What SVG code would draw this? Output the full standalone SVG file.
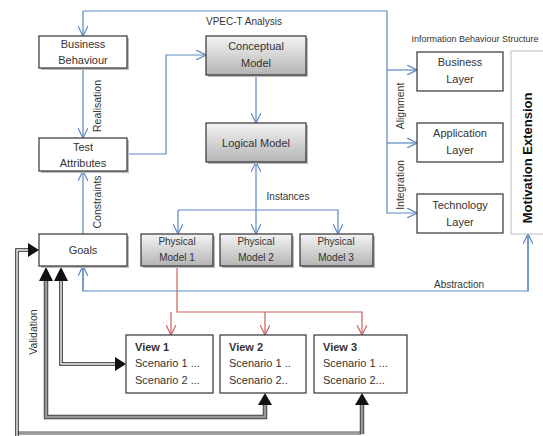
<svg xmlns="http://www.w3.org/2000/svg" width="543" height="436" viewBox="0 0 543 436">
<defs>
<linearGradient id="g" x1="0" y1="0" x2="0" y2="1">
<stop offset="0" stop-color="#f4f4f4"/>
<stop offset="1" stop-color="#b4b4b4"/>
</linearGradient>
<marker id="ab" viewBox="0 0 10 10" refX="10" refY="5" markerWidth="10" markerHeight="10" markerUnits="userSpaceOnUse" orient="auto">
<path d="M0,0 L10,5 L0,10" fill="none" stroke="#5b87c5" stroke-width="1.2"/>
</marker>
<marker id="ar" viewBox="0 0 10 10" refX="10" refY="5" markerWidth="10" markerHeight="10" markerUnits="userSpaceOnUse" orient="auto">
<path d="M0,0 L10,5 L0,10" fill="none" stroke="#c9605d" stroke-width="1.2"/>
</marker>
</defs>
<style>
text{font-family:"Liberation Sans",Arial,sans-serif;fill:#333;}
.b{fill:#fff;stroke:#333;stroke-width:1.2;}
.gb{fill:url(#g);stroke:#333;stroke-width:1.2;}
.sh{fill:#bbb;}
.t{font-size:11px;text-anchor:middle;}
.s{font-size:10px;text-anchor:middle;}
.l{font-size:10px;}
.r{font-size:10.5px;}
.blue{fill:none;stroke:#5b87c5;stroke-width:1.2;}
.red{fill:none;stroke:#c9605d;stroke-width:1.2;}
.dk{fill:none;stroke:#222;stroke-width:3.5;}
.dw{fill:none;stroke:#fff;stroke-width:1.4;}
.gk{fill:none;stroke:#444;stroke-width:4.5;}
.gw{fill:none;stroke:#999;stroke-width:2.5;}
.tk{fill:none;stroke:#555;stroke-width:3;}
.tw{fill:none;stroke:#ddd;stroke-width:1.2;}
.ah{fill:#111;}
</style>
<rect width="543" height="436" fill="#fff"/>
<g id="connectors">
<path class="blue" d="M83,11 H387 V213 H417" marker-end="url(#ab)"/>
<path class="blue" d="M83,11 V36" marker-end="url(#ab)"/>
<path class="blue" d="M387,70 H417" marker-end="url(#ab)"/>
<path class="blue" d="M387,143 H417" marker-end="url(#ab)"/>
<path class="blue" d="M83,68 V138" marker-end="url(#ab)"/>
<path class="blue" d="M127,154 H166 V55 H206" marker-end="url(#ab)"/>
<path class="blue" d="M256,75 V123" marker-end="url(#ab)"/>
<path class="blue" d="M83,234 V171" marker-end="url(#ab)"/>
<path class="blue" d="M256,210 V162" marker-end="url(#ab)"/>
<path class="blue" d="M178,210 H338 V234" marker-end="url(#ab)"/>
<path class="blue" d="M178,210 V234" marker-end="url(#ab)"/>
<path class="blue" d="M256,210 V234" marker-end="url(#ab)"/>
<path class="blue" d="M83,266 V291 H528 V234"/>
<path class="blue" d="M83,291 V266" marker-end="url(#ab)"/>
<path class="blue" d="M528,291 V234" marker-end="url(#ab)"/>
<path class="red" d="M177,266 V312 H362 V335" marker-end="url(#ar)"/>
<path class="red" d="M171,312 V335" marker-end="url(#ar)"/>
<path class="red" d="M265,312 V335" marker-end="url(#ar)"/>
<path class="tk" d="M17,433 H362"/>
<path class="tw" d="M17,433 H362"/>
<path class="gk" d="M362,434 V404"/>
<path class="gw" d="M362,434 V404"/>
<path class="dk" d="M17,436 V250 H28"/>
<path class="dw" d="M17,436 V250 H28"/>
<polygon class="ah" points="28,243 39,250 28,257"/>
<path class="dk" d="M61,281 V364 H115"/>
<path class="dw" d="M61,281 V364 H115"/>
<polygon class="ah" points="115,357 126,364 115,371"/>
<polygon class="ah" points="54,281 61,267 68,281"/>
<path class="gk" d="M46,281 V417 H265 V404"/>
<path class="gw" d="M46,281 V417 H265 V404"/>
<polygon class="ah" points="39,281 46,267 53,281"/>
<polygon class="ah" points="258,405 265,393 272,405"/>
<polygon class="ah" points="355,405 362,393 369,405"/>
<text class="l" x="244" y="25" text-anchor="middle">VPEC-T Analysis</text>
<text x="475" y="42" text-anchor="middle" font-size="9">Information Behaviour Structure</text>
<text class="r" transform="translate(101,106) rotate(-90)" text-anchor="middle">Realisation</text>
<text class="r" transform="translate(101,202) rotate(-90)" text-anchor="middle">Constraints</text>
<text class="r" transform="translate(404,106) rotate(-90)" text-anchor="middle">Alignment</text>
<text class="r" transform="translate(404,185) rotate(-90)" text-anchor="middle">Integration</text>
<text class="r" transform="translate(37,332) rotate(-90)" text-anchor="middle">Validation</text>
<text class="l" x="288" y="200" text-anchor="middle">Instances</text>
<text class="l" x="459" y="288" text-anchor="middle">Abstraction</text>
</g>
<g id="business-behaviour"><rect class="sh" x="41" y="38" width="88" height="32"/><rect class="b" x="39" y="36" width="88" height="32"/><text class="t" x="83" y="48">Business</text><text class="t" x="83" y="64">Behaviour</text></g>
<g id="test-attributes"><rect class="sh" x="41" y="140" width="88" height="33"/><rect class="b" x="39" y="138" width="88" height="33"/><text class="t" x="83" y="151">Test</text><text class="t" x="83" y="167">Attributes</text></g>
<g id="goals"><rect class="sh" x="41" y="236" width="88" height="32"/><rect class="b" x="39" y="234" width="88" height="32"/><text class="t" x="83" y="254">Goals</text></g>
<g id="conceptual-model"><rect class="sh" x="208" y="38" width="100" height="39"/><rect class="gb" x="206" y="36" width="100" height="39"/><text class="t" x="256" y="50">Conceptual</text><text class="t" x="256" y="67">Model</text></g>
<g id="logical-model"><rect class="sh" x="208" y="125" width="100" height="39"/><rect class="gb" x="206" y="123" width="100" height="39"/><text class="t" x="256" y="147">Logical Model</text></g>
<g id="physical-model-1"><rect class="sh" x="143" y="236" width="72" height="32"/><rect class="gb" x="141" y="234" width="72" height="32"/><text class="s" x="177" y="245">Physical</text><text class="s" x="177" y="261">Model 1</text></g>
<g id="physical-model-2"><rect class="sh" x="222" y="236" width="72" height="32"/><rect class="gb" x="220" y="234" width="72" height="32"/><text class="s" x="256" y="245">Physical</text><text class="s" x="256" y="261">Model 2</text></g>
<g id="physical-model-3"><rect class="sh" x="302" y="236" width="73" height="32"/><rect class="gb" x="300" y="234" width="73" height="32"/><text class="s" x="336" y="245">Physical</text><text class="s" x="336" y="261">Model 3</text></g>
<g id="business-layer"><rect class="b" x="417" y="52" width="86" height="39"/><text class="t" x="460" y="66">Business</text><text class="t" x="460" y="83">Layer</text></g>
<g id="application-layer"><rect class="b" x="417" y="123" width="86" height="39"/><text class="t" x="460" y="137">Application</text><text class="t" x="460" y="154">Layer</text></g>
<g id="technology-layer"><rect class="b" x="417" y="194" width="86" height="39"/><text class="t" x="460" y="209">Technology</text><text class="t" x="460" y="226">Layer</text></g>
<g id="motivation-extension"><rect x="511" y="51" width="40" height="183" fill="#fff" stroke="#bbb" stroke-width="1"/><text transform="translate(532,158) rotate(-90)" text-anchor="middle" font-size="13" font-weight="bold" style="fill:#111">Motivation Extension</text></g>
<g id="view-1"><rect class="b" x="126" y="335" width="87" height="58"/><text x="135" y="351" font-size="11" font-weight="bold">View 1</text><text x="135" y="367" font-size="11">Scenario 1 ...</text><text x="135" y="384" font-size="11">Scenario 2 ...</text></g>
<g id="view-2"><rect class="b" x="220" y="335" width="86" height="58"/><text x="229" y="351" font-size="11" font-weight="bold">View 2</text><text x="229" y="367" font-size="11">Scenario 1 ..</text><text x="229" y="384" font-size="11">Scenario 2..</text></g>
<g id="view-3"><rect class="b" x="314" y="335" width="93" height="58"/><text x="323" y="351" font-size="11" font-weight="bold">View  3</text><text x="323" y="367" font-size="11">Scenario 1 ...</text><text x="323" y="384" font-size="11">Scenario 2...</text></g>
</svg>
